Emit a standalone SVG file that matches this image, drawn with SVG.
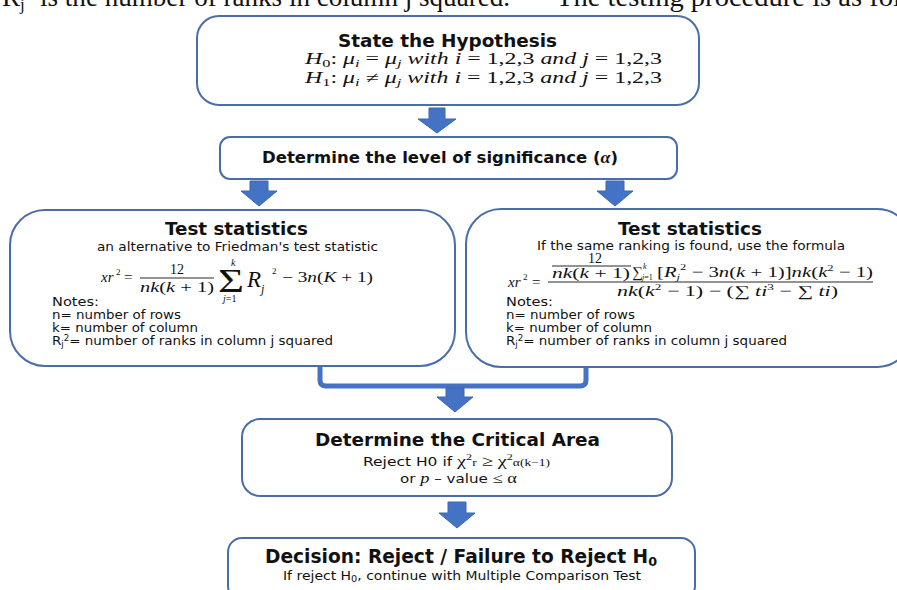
<svg xmlns="http://www.w3.org/2000/svg" width="897" height="590" viewBox="0 0 897 590">
<style>
.box{fill:#fff;stroke:#4A6DA8;stroke-width:2}
.arw{fill:#4472C4;stroke:#3D66B0;stroke-width:1}
.brk{fill:none;stroke:#4472C4;stroke-width:5;stroke-linejoin:round}
.s{font-family:"DejaVu Sans","Noto Sans",sans-serif;fill:#111}
.b{font-weight:bold}
.m{font-family:"Liberation Serif","Times New Roman",serif;fill:#111}
.i{font-style:italic}
.top{font-family:"Liberation Serif","Times New Roman",serif;font-size:27px;fill:#111}
.bar{stroke:#111;stroke-width:0.9}
</style>
<text class="top" x="2" y="6">R<tspan font-size="17" dy="4">j</tspan></text>
<text class="top" x="40" y="6" textLength="470" lengthAdjust="spacingAndGlyphs">is the number of ranks in column j squared.</text>
<text class="top" x="556" y="6" textLength="345" lengthAdjust="spacingAndGlyphs">The testing procedure is as fol</text>

<g id="connectors">
<path class="arw" d="M429,108 H445 V119 H456 L437,133 L418,119 H429 Z"/>
<path class="arw" d="M250,181 H268 V191 H277 L259,206 L241,191 H250 Z"/>
<path class="arw" d="M606,181 H624 V191 H633 L615,206 L597,191 H606 Z"/>
<path class="brk" d="M320,362 V380 Q320,386 326,386 H580 Q586,386 586,380 V362"/>
<path class="arw" d="M446,388 H464 V397 H473 L455,412 L437,397 H446 Z"/>
<path class="arw" d="M448,502 H466 V513 H475 L457,528 L439,513 H448 Z"/>
</g>

<g id="hypothesis">
<rect class="box" x="197" y="16" width="502" height="89" rx="22"/>
<text class="s b" x="338" y="47" font-size="17.5" textLength="219" lengthAdjust="spacingAndGlyphs">State the Hypothesis</text>
<text class="m" x="305" y="64" font-size="16" textLength="357" lengthAdjust="spacingAndGlyphs"><tspan class="i">H</tspan><tspan font-size="11" dy="3">0</tspan><tspan dy="-3">: </tspan><tspan class="i">μ</tspan><tspan class="i" font-size="11" dy="3">i</tspan><tspan dy="-3"> = </tspan><tspan class="i">μ</tspan><tspan class="i" font-size="11" dy="3">j</tspan><tspan class="i" dy="-3"> with i</tspan> = 1,2,3 <tspan class="i">and j</tspan> = 1,2,3</text>
<text class="m" x="305" y="83" font-size="16" textLength="357" lengthAdjust="spacingAndGlyphs"><tspan class="i">H</tspan><tspan font-size="11" dy="3">1</tspan><tspan dy="-3">: </tspan><tspan class="i">μ</tspan><tspan class="i" font-size="11" dy="3">i</tspan><tspan dy="-3"> ≠ </tspan><tspan class="i">μ</tspan><tspan class="i" font-size="11" dy="3">j</tspan><tspan class="i" dy="-3"> with i</tspan> = 1,2,3 <tspan class="i">and j</tspan> = 1,2,3</text>
</g>

<g id="significance">
<rect class="box" x="220" y="137" width="457" height="42" rx="10"/>
<text class="s b" x="262" y="163" font-size="15.5" textLength="356" lengthAdjust="spacingAndGlyphs">Determine the level of significance  (<tspan class="m i" font-size="17">α</tspan>)</text>
</g>

<g id="test-left">
<rect class="box" x="10" y="210" width="445" height="156" rx="35"/>
<text class="s b" x="165" y="235" font-size="18" textLength="143" lengthAdjust="spacingAndGlyphs">Test statistics</text>
<text class="s" x="97" y="251" font-size="12" textLength="281" lengthAdjust="spacingAndGlyphs">an alternative to Friedman's test statistic</text>
<text class="m i" x="101" y="282" font-size="15">xr</text>
<text class="m" x="116" y="275" font-size="9">2</text>
<text class="m" x="124" y="282" font-size="15">=</text>
<text class="m" x="177" y="274" font-size="14" text-anchor="middle">12</text>
<line class="bar" x1="140" y1="278" x2="214" y2="278"/>
<text class="m" x="140" y="292" font-size="14" textLength="74" lengthAdjust="spacingAndGlyphs"><tspan class="i">nk</tspan>(<tspan class="i">k</tspan> + 1)</text>
<text class="m" x="218" y="292" font-size="34" textLength="26" lengthAdjust="spacingAndGlyphs">Σ</text>
<text class="m i" x="231" y="266" font-size="10">k</text>
<text class="m" x="223" y="302" font-size="10"><tspan class="i">j</tspan>=1</text>
<text class="m i" x="247" y="287" font-size="23">R</text>
<text class="m i" x="261" y="293" font-size="12">j</text>
<text class="m" x="272" y="274" font-size="9">2</text>
<text class="m" x="282" y="282" font-size="14.5" textLength="91" lengthAdjust="spacingAndGlyphs">− 3<tspan class="i">n</tspan>(<tspan class="i">K</tspan> + 1)</text>
<text class="s" x="52" y="306" font-size="12.5" textLength="47" lengthAdjust="spacingAndGlyphs">Notes:</text>
<text class="s" x="52" y="319" font-size="12.5" textLength="129" lengthAdjust="spacingAndGlyphs">n= number of rows</text>
<text class="s" x="52" y="332" font-size="12.5" textLength="146" lengthAdjust="spacingAndGlyphs">k= number of column</text>
<text class="s" x="52" y="345" font-size="12.5" textLength="281" lengthAdjust="spacingAndGlyphs">R<tspan font-size="8" dy="2">j</tspan><tspan font-size="8" dy="-6">2</tspan><tspan dy="4">= number of ranks in column j squared</tspan></text>
</g>

<g id="test-right">
<rect class="box" x="466" y="209" width="446" height="158" rx="35"/>
<text class="s b" x="618" y="235" font-size="18" textLength="144" lengthAdjust="spacingAndGlyphs">Test statistics</text>
<text class="s" x="537" y="250" font-size="12" textLength="308" lengthAdjust="spacingAndGlyphs">If the same ranking is found, use the formula</text>
<text class="m i" x="508" y="287" font-size="15">xr</text>
<text class="m" x="523" y="280" font-size="9">2</text>
<text class="m" x="532" y="287" font-size="15">=</text>
<line class="bar" x1="548" y1="282" x2="873" y2="282"/>
<text class="m" x="595" y="263" font-size="14" text-anchor="middle">12</text>
<line class="bar" x1="552" y1="266" x2="631" y2="266"/>
<text class="m" x="552" y="278" font-size="14" textLength="78" lengthAdjust="spacingAndGlyphs"><tspan class="i">nk</tspan>(<tspan class="i">k</tspan> + 1)</text>
<text class="m" x="632" y="277" font-size="15">∑</text>
<text class="m i" x="643" y="269" font-size="8">k</text>
<text class="m" x="642" y="280" font-size="8"><tspan class="i">j</tspan>=1</text>
<text class="m" x="657" y="277" font-size="15" textLength="216" lengthAdjust="spacingAndGlyphs">[<tspan class="i">R</tspan><tspan class="i" font-size="9" dy="3">j</tspan><tspan font-size="9" dy="-10">2</tspan><tspan dy="7"> − 3</tspan><tspan class="i">n</tspan>(<tspan class="i">k</tspan> + 1)]<tspan class="i">nk</tspan>(<tspan class="i">k</tspan><tspan font-size="9" dy="-6">2</tspan><tspan dy="6"> − 1)</tspan></text>
<text class="m" x="617" y="296" font-size="15" textLength="221" lengthAdjust="spacingAndGlyphs"><tspan class="i">nk</tspan>(<tspan class="i">k</tspan><tspan font-size="9" dy="-6">2</tspan><tspan dy="6"> − 1) − (∑ </tspan><tspan class="i">ti</tspan><tspan font-size="9" dy="-6">3</tspan><tspan dy="6"> − ∑ </tspan><tspan class="i">ti</tspan>)</text>
<text class="s" x="506" y="306" font-size="12.5" textLength="47" lengthAdjust="spacingAndGlyphs">Notes:</text>
<text class="s" x="506" y="319" font-size="12.5" textLength="129" lengthAdjust="spacingAndGlyphs">n= number of rows</text>
<text class="s" x="506" y="332" font-size="12.5" textLength="146" lengthAdjust="spacingAndGlyphs">k= number of column</text>
<text class="s" x="506" y="345" font-size="12.5" textLength="281" lengthAdjust="spacingAndGlyphs">R<tspan font-size="8" dy="2">j</tspan><tspan font-size="8" dy="-6">2</tspan><tspan dy="4">= number of ranks in column j squared</tspan></text>
</g>

<g id="critical-area">
<rect class="box" x="242" y="419" width="430" height="77" rx="18"/>
<text class="s b" x="315" y="446" font-size="18.5" textLength="285" lengthAdjust="spacingAndGlyphs">Determine the Critical Area</text>
<text class="s" x="363" y="466" font-size="11.5" textLength="187" lengthAdjust="spacingAndGlyphs">Reject H0 if <tspan class="m" font-size="15">χ</tspan><tspan class="m" font-size="9" dy="-6">2</tspan><tspan class="m" font-size="10" dy="6">r</tspan><tspan class="m" font-size="15"> ≥ χ</tspan><tspan class="m" font-size="9" dy="-6">2</tspan><tspan class="m" font-size="10" dy="6">α(k−1)</tspan></text>
<text class="s" x="400" y="483" font-size="11.5" textLength="117" lengthAdjust="spacingAndGlyphs">or <tspan class="m i" font-size="14">p</tspan> – value <tspan class="m" font-size="14">≤ α</tspan></text>
</g>

<g id="decision">
<rect class="box" x="228" y="538" width="467" height="62" rx="14"/>
<text class="s b" x="265" y="563" font-size="19" textLength="392" lengthAdjust="spacingAndGlyphs">Decision: Reject / Failure to Reject H<tspan font-size="13" dy="3">0</tspan></text>
<text class="s" x="283" y="580" font-size="11.5" textLength="358" lengthAdjust="spacingAndGlyphs">If reject H<tspan font-size="8" dy="2">0</tspan><tspan dy="-2">, continue with Multiple Comparison Test</tspan></text>
</g>
</svg>
